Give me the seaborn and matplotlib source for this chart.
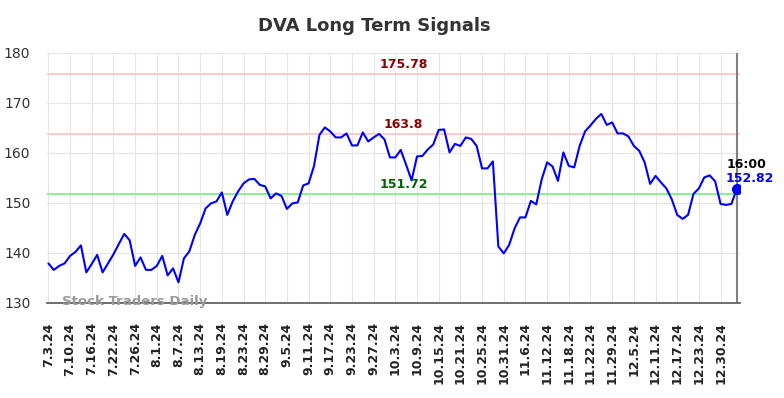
import seaborn as sns
import matplotlib.pyplot as plt
import pandas as pd

# closing prices, one per trading day from 7.3.24
prices = [
    137.9, 136.6, 137.4, 137.9, 139.4, 140.2, 141.5, 136.1, 137.8, 139.6,
    136.1, 137.9, 139.7, 141.8, 143.8, 142.5, 137.4, 139.1, 136.6, 136.6,
    137.4, 139.4, 135.5, 136.9, 134.1, 138.9, 140.3, 143.6, 145.9, 148.9,
    149.9, 150.3, 152.1, 147.6, 150.3, 152.3, 153.9, 154.7, 154.8, 153.6,
    153.3, 150.9, 151.9, 151.4, 148.8, 149.9, 150.1, 153.5, 153.9, 157.4,
    163.6, 165.1, 164.3, 163.1, 163.1, 163.9, 161.5, 161.5, 164.1, 162.3,
    163.1, 163.8, 162.7, 159.1, 159.1, 160.6, 157.6, 154.5, 159.3, 159.4,
    160.7, 161.7, 164.6, 164.7, 160.1, 161.8, 161.4, 163.1, 162.8, 161.4,
    156.9, 156.9, 158.3, 141.3, 139.9, 141.6, 144.9, 147.1, 147.1, 150.4,
    149.7, 154.7, 158.1, 157.3, 154.4, 160.1, 157.4, 157.1, 161.4, 164.3,
    165.5, 166.8, 167.8, 165.6, 166.1, 163.9, 163.9, 163.3, 161.4, 160.4,
    158.1, 153.8, 155.4, 154.1, 152.9, 150.7, 147.6, 146.8, 147.6, 151.8,
    152.9, 155.1, 155.5, 154.3, 149.8, 149.6, 149.8, 152.82,
]

tick_labels = [
    '7.3.24', '7.10.24', '7.16.24', '7.22.24', '7.26.24', '8.1.24', '8.7.24',
    '8.13.24', '8.19.24', '8.23.24', '8.29.24', '9.5.24', '9.11.24', '9.17.24',
    '9.23.24', '9.27.24', '10.3.24', '10.9.24', '10.15.24', '10.21.24',
    '10.25.24', '10.31.24', '11.6.24', '11.12.24', '11.18.24', '11.22.24',
    '11.29.24', '12.5.24', '12.11.24', '12.17.24', '12.23.24', '12.30.24',
]
tick_step = 4

upper_levels = [175.78, 163.8]
lower_level = 151.72
last_time = '16:00'

df = pd.DataFrame({'day': range(len(prices)), 'price': prices})
last_i = len(prices) - 1

sns.set_style('whitegrid', {'grid.color': '#e6e6e6'})
plt.rcParams['font.family'] = ['DejaVu Sans']

fig = plt.figure(figsize=(7.84, 3.98), dpi=100)
ax = fig.add_axes([0.060, 0.239, 0.884, 0.628])

for lvl in upper_levels:
    ax.axhline(lvl, color='#ffcccc', lw=1.5, zorder=1)
ax.axhline(lower_level, color='#90ee90', lw=1.5, zorder=1)

sns.lineplot(data=df, x='day', y='price', color='#0000ff', lw=1.5, ax=ax, zorder=3)
ax.plot(last_i, prices[-1], 'o', color='#0000ff', ms=7, zorder=4)
ax.axvline(last_i, color='#808080', lw=1.5, zorder=2)

label_x = 65.5
ax.text(label_x, upper_levels[0] + 0.6, f'{upper_levels[0]}', color='#8b0000',
        fontsize=9, fontweight='bold', ha='center', va='bottom')
ax.text(label_x, upper_levels[1] + 0.6, f'{upper_levels[1]}', color='#8b0000',
        fontsize=9, fontweight='bold', ha='center', va='bottom')
ax.text(label_x, lower_level + 0.6, f'{lower_level}', color='#006400',
        fontsize=9, fontweight='bold', ha='center', va='bottom')

ax.text(last_i + 1.8, prices[-1] + 4.8, last_time, color='black',
        fontsize=9, fontweight='bold', ha='center', va='center')
ax.text(last_i + 2.4, prices[-1] + 2.0, f'{prices[-1]}', color='#0000ff',
        fontsize=9, fontweight='bold', ha='center', va='center')

ax.text(0.022, 0.005, 'Stock Traders Daily', transform=ax.transAxes,
        color='#999999', fontsize=9.5, fontweight='bold', ha='left', va='center', zorder=5)

ax.set_xlim(-0.25, last_i + 0.6)
ax.set_ylim(130, 180)
ax.set_yticks(range(130, 181, 10))
ax.set_xticks(range(0, tick_step * len(tick_labels), tick_step))
ax.set_xticklabels(tick_labels, rotation=90, fontsize=9, fontweight='bold')
ax.tick_params(axis='x', length=0, pad=14, colors='#222222')
ax.tick_params(axis='y', length=0, pad=12, labelsize=10, colors='#333333')
ax.set_xlabel('')
ax.set_ylabel('')

for side in ['top', 'left', 'right']:
    ax.spines[side].set_visible(False)
ax.spines['bottom'].set_color('#555555')
ax.spines['bottom'].set_linewidth(1.2)

fig.text(374 / 784, 0.935, 'DVA Long Term Signals', ha='center', va='center',
         fontsize=13, fontweight='bold', color='#333333')

fig.savefig('out.png', dpi=100)
